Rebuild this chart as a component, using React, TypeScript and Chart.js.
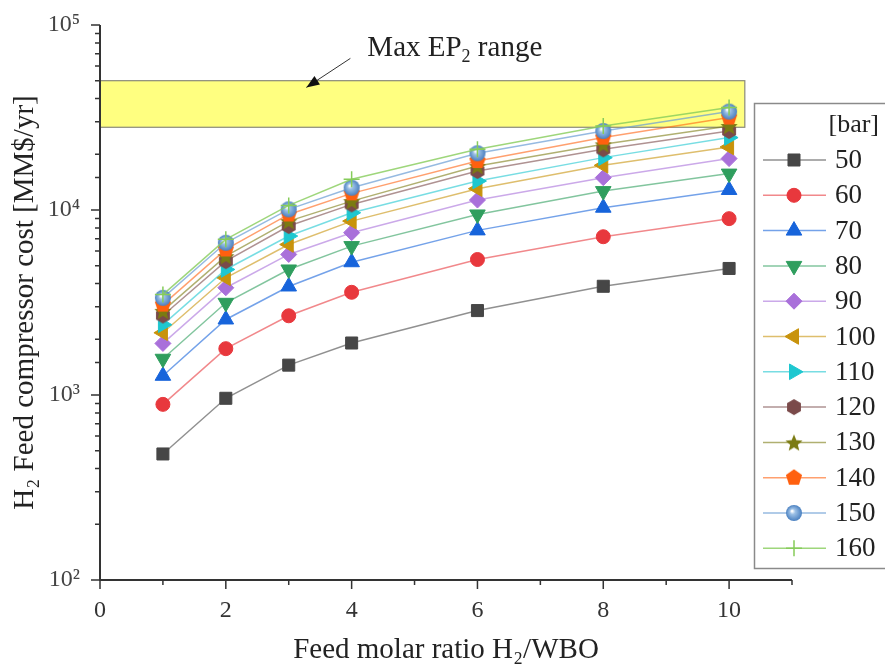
import React, { useEffect, useRef } from 'react';
import { Chart, registerables } from 'chart.js';
import { drawPoint } from 'chart.js/helpers';

Chart.register(...registerables);

// ---------------- data ----------------
const RATIOS = [1, 2, 3, 4, 6, 8, 10];
const PRESSURES = ['50', '60', '70', '80', '90', '100', '110', '120', '130', '140', '150', '160'];
const COST_50 = [480, 960, 1450, 1910, 2860, 3870, 4830];
const COST_60 = [890, 1780, 2680, 3590, 5400, 7170, 8980];
const COST_70 = [1270, 2560, 3860, 5220, 7760, 10290, 12830];
const COST_80 = [1570, 3150, 4770, 6380, 9460, 12650, 15730];
const COST_90 = [1900, 3800, 5750, 7540, 11320, 14960, 18960];
const COST_100 = [2170, 4300, 6510, 8710, 13040, 17440, 21910];
const COST_110 = [2400, 4770, 7230, 9660, 14340, 19190, 24620];
const COST_120 = [2690, 5290, 8190, 10720, 16240, 21280, 26720];
const COST_130 = [2850, 5630, 8710, 11170, 17290, 22640, 28470];
const COST_140 = [3080, 6120, 9460, 12300, 18400, 24620, 31600];
const COST_150 = [3350, 6650, 10080, 13200, 20250, 26720, 34040];
const COST_160 = [3490, 6940, 10590, 14650, 21280, 28470, 35800];
const SERIES = [COST_50, COST_60, COST_70, COST_80, COST_90, COST_100, COST_110, COST_120, COST_130, COST_140, COST_150, COST_160];

// Max EP2 range band (cost) and its x extent
const BAND_LOW = 28000;
const BAND_HIGH = 50000;
const BAND_X_MIN = 0;
const BAND_X_MAX = 10.25;

const X_TICK_LABELS = ['0', '2', '4', '6', '8', '10'];
const Y_TICK_LABELS = ['10²', '10³', '10⁴', '10⁵'];
const LEGEND_HEADER = '[bar]';
const ANNOT_TEXT = ['Max EP', '2', ' range'];
const X_TITLE = 'Feed molar ratio H₂/WBO';
const Y_TITLE = 'H₂ Feed compressor cost [MM$/yr]';

// ---------------- styles ----------------
const FONT = "'Liberation Serif', 'Times New Roman', serif";
const MARK_COLORS = ['#464646', '#E8383D', '#1764DB', '#2F9E5E', '#A970DA', '#C8930C', '#1EC7D0', '#7A4A4A', '#7B7B12', '#FF600F', '#6A9CD4', '#86CC5A'];
const LINE_COLORS = ['rgba(70,70,70,0.6)', 'rgba(232,56,61,0.6)', 'rgba(23,100,219,0.6)', 'rgba(47,158,94,0.6)', 'rgba(169,112,218,0.6)', 'rgba(200,147,12,0.6)', 'rgba(30,199,208,0.6)', 'rgba(122,74,74,0.6)', 'rgba(123,123,18,0.6)', 'rgba(255,96,15,0.6)', 'rgba(106,156,212,0.7)', 'rgba(134,204,90,0.8)'];

function mk(size: number, draw: (ctx: CanvasRenderingContext2D, c: number) => void) {
  const cv = document.createElement('canvas');
  cv.width = size;
  cv.height = size;
  const ctx = cv.getContext('2d')!;
  draw(ctx, size / 2);
  return cv;
}
function polygon(ctx: CanvasRenderingContext2D, c: number, n: number, r: number, start: number, color: string) {
  ctx.beginPath();
  for (let i = 0; i < n; i++) {
    const a = start + (i * 2 * Math.PI) / n;
    const px = c + r * Math.cos(a);
    const py = c + r * Math.sin(a);
    if (i === 0) ctx.moveTo(px, py);
    else ctx.lineTo(px, py);
  }
  ctx.closePath();
  ctx.fillStyle = color;
  ctx.fill();
}

function makeStyles() {
  const hex = mk(18, (ctx, c) => polygon(ctx, c, 6, 8, -Math.PI / 2, MARK_COLORS[7]));
  const star = mk(20, (ctx, c) => {
    ctx.beginPath();
    for (let i = 0; i < 10; i++) {
      const r = i % 2 === 0 ? 9 : 4;
      const a = -Math.PI / 2 + (i * Math.PI) / 5;
      const px = c + r * Math.cos(a);
      const py = c + 1 + r * Math.sin(a);
      if (i === 0) ctx.moveTo(px, py);
      else ctx.lineTo(px, py);
    }
    ctx.closePath();
    ctx.fillStyle = MARK_COLORS[8];
    ctx.fill();
  });
  const penta = mk(18, (ctx, c) => polygon(ctx, c, 5, 8.5, -Math.PI / 2, MARK_COLORS[9]));
  const sphere = mk(18, (ctx, c) => {
    const g = ctx.createRadialGradient(c - 2, c - 2, 0.5, c, c, 8);
    g.addColorStop(0, '#ffffff');
    g.addColorStop(0.3, '#9cc0e6');
    g.addColorStop(1, '#4a80c0');
    ctx.beginPath();
    ctx.arc(c, c, 8, 0, Math.PI * 2);
    ctx.fillStyle = g;
    ctx.fill();
  });
  return [
    { pointStyle: 'rect', radius: 8.5, rotation: 0 },
    { pointStyle: 'circle', radius: 7, rotation: 0 },
    { pointStyle: 'triangle', radius: 9, rotation: 0 },
    { pointStyle: 'triangle', radius: 9, rotation: 180 },
    { pointStyle: 'rectRot', radius: 8, rotation: 0 },
    { pointStyle: 'triangle', radius: 9, rotation: 270 },
    { pointStyle: 'triangle', radius: 9, rotation: 90 },
    { pointStyle: hex, radius: 8, rotation: 0 },
    { pointStyle: star, radius: 9, rotation: 0 },
    { pointStyle: penta, radius: 8, rotation: 0 },
    { pointStyle: sphere, radius: 8, rotation: 0 },
    { pointStyle: 'cross', radius: 8, rotation: 0 },
  ];
}

const bandPlugin = {
  id: 'band',
  beforeDatasetsDraw(chart: any) {
    const { ctx, scales } = chart;
    const x0 = scales.x.getPixelForValue(BAND_X_MIN);
    const x1 = scales.x.getPixelForValue(BAND_X_MAX);
    const y0 = scales.y.getPixelForValue(BAND_HIGH);
    const y1 = scales.y.getPixelForValue(BAND_LOW);
    ctx.save();
    ctx.fillStyle = '#FFFF80';
    ctx.fillRect(x0, y0, x1 - x0, y1 - y0);
    ctx.strokeStyle = '#8a8a7a';
    ctx.lineWidth = 1.2;
    ctx.strokeRect(x0, y0, x1 - x0, y1 - y0);
    ctx.restore();
  },
};

const axesPlugin = {
  id: 'axesDraw',
  afterDraw(chart: any) {
    const { ctx, scales, chartArea } = chart;
    const xs = scales.x;
    const ys = scales.y;
    ctx.save();
    ctx.strokeStyle = '#333';
    ctx.lineWidth = 2;
    ctx.beginPath();
    ctx.moveTo(chartArea.left, chartArea.top);
    ctx.lineTo(chartArea.left, chartArea.bottom);
    ctx.lineTo(chartArea.right, chartArea.bottom);
    ctx.stroke();
    ctx.lineWidth = 1.5;
    ctx.beginPath();
    ys.ticks.forEach((t: any) => {
      const y = ys.getPixelForValue(t.value);
      const lg = Math.log10(t.value);
      const major = Math.abs(lg - Math.round(lg)) < 1e-9;
      ctx.moveTo(chartArea.left, y);
      ctx.lineTo(chartArea.left - (major ? 9 : 5), y);
    });
    xs.ticks.forEach((t: any) => {
      const x = xs.getPixelForValue(t.value);
      const major = t.value % 2 === 0;
      ctx.moveTo(x, chartArea.bottom);
      ctx.lineTo(x, chartArea.bottom + (major ? 9 : 5));
    });
    ctx.stroke();
    ctx.restore();
  },
};

const annotPlugin = {
  id: 'annot',
  afterDraw(chart: any) {
    const { ctx, scales } = chart;
    const tipX = scales.x.getPixelForValue(3.28);
    const tipY = scales.y.getPixelForValue(46000);
    const sX = scales.x.getPixelForValue(3.98);
    const sY = scales.y.getPixelForValue(66000);
    ctx.save();
    ctx.strokeStyle = '#333';
    ctx.fillStyle = '#111';
    ctx.lineWidth = 1;
    ctx.beginPath();
    ctx.moveTo(sX, sY);
    ctx.lineTo(tipX, tipY);
    ctx.stroke();
    const ang = Math.atan2(tipY - sY, tipX - sX);
    const L = 13, W = 5;
    ctx.beginPath();
    ctx.moveTo(tipX, tipY);
    ctx.lineTo(tipX - L * Math.cos(ang) + W * Math.sin(ang), tipY - L * Math.sin(ang) - W * Math.cos(ang));
    ctx.lineTo(tipX - L * Math.cos(ang) - W * Math.sin(ang), tipY - L * Math.sin(ang) + W * Math.cos(ang));
    ctx.closePath();
    ctx.fill();
    // text
    let x = scales.x.getPixelForValue(4.25);
    const base = scales.y.getPixelForValue(68000);
    ctx.fillStyle = '#222';
    ctx.textBaseline = 'alphabetic';
    ctx.textAlign = 'left';
    ctx.font = `29px ${FONT}`;
    ctx.fillText(ANNOT_TEXT[0], x, base);
    x += ctx.measureText(ANNOT_TEXT[0]).width;
    ctx.font = `18px ${FONT}`;
    ctx.fillText(ANNOT_TEXT[1], x, base + 6);
    x += ctx.measureText(ANNOT_TEXT[1]).width;
    ctx.font = `29px ${FONT}`;
    ctx.fillText(ANNOT_TEXT[2], x, base);
    ctx.restore();
  },
};

const legendPlugin = {
  id: 'customLegend',
  afterDraw(chart: any) {
    const { ctx } = chart;
    ctx.save();
    ctx.fillStyle = '#fff';
    ctx.fillRect(755, 104, 140, 464);
    ctx.strokeStyle = '#8a8a8a';
    ctx.lineWidth = 1.5;
    ctx.strokeRect(754.5, 103.5, 160, 465);
    ctx.fillStyle = '#222';
    ctx.font = `26px ${FONT}`;
    ctx.textAlign = 'right';
    ctx.textBaseline = 'middle';
    ctx.fillText(LEGEND_HEADER, 879, 125);
    chart.data.datasets.forEach((ds: any, i: number) => {
      const y = 160 + i * 35.3;
      ctx.strokeStyle = ds.borderColor;
      ctx.lineWidth = 1.5;
      ctx.beginPath();
      ctx.moveTo(763, y);
      ctx.lineTo(826, y);
      ctx.stroke();
      ctx.fillStyle = ds.pointBackgroundColor;
      ctx.strokeStyle = ds.pointBorderColor;
      ctx.lineWidth = ds.pointBorderWidth;
      drawPoint(ctx, { pointStyle: ds.pointStyle, radius: ds.pointRadius, rotation: ds.pointRotation, borderWidth: ds.pointBorderWidth }, 794, y);
      ctx.fillStyle = '#222';
      ctx.font = `27px ${FONT}`;
      ctx.textAlign = 'left';
      ctx.textBaseline = 'middle';
      ctx.fillText(ds.label, 835, y + 1);
    });
    ctx.restore();
  },
};

export default function App() {
  const ref = useRef<HTMLCanvasElement>(null);
  useEffect(() => {
    if (!ref.current) return;
    const styles = makeStyles();
    const datasets = SERIES.map((vals, i) => ({
      label: PRESSURES[i],
      data: RATIOS.map((r, j) => ({ x: r, y: vals[j] })),
      borderColor: LINE_COLORS[i],
      backgroundColor: MARK_COLORS[i],
      borderWidth: 1.5,
      pointStyle: styles[i].pointStyle as any,
      pointRadius: styles[i].radius,
      pointRotation: styles[i].rotation,
      pointBackgroundColor: MARK_COLORS[i],
      pointBorderColor: MARK_COLORS[i],
      pointBorderWidth: i === 11 ? 1.5 : 1,
      tension: 0,
      order: 20 - i,
    }));
    const chart = new Chart(ref.current, {
      type: 'line',
      data: { datasets },
      plugins: [bandPlugin, axesPlugin, annotPlugin, legendPlugin],
      options: {
        responsive: false,
        animation: false,
        layout: { padding: { left: 0, top: 25, right: 93, bottom: 0 } },
        plugins: { legend: { display: false }, tooltip: { enabled: false } },
        scales: {
          x: {
            type: 'linear',
            min: 0,
            max: 11,
            afterFit: (s: any) => { s.height = 88; s.paddingLeft = 0; s.paddingRight = 0; },
            grid: { display: false, drawTicks: false },
            border: { display: false },
            ticks: {
              stepSize: 1,
              autoSkip: false,
              maxRotation: 0,
              padding: 16,
              color: '#333',
              font: { family: FONT, size: 24 },
              callback: (v: any) => (v % 2 === 0 ? X_TICK_LABELS[v / 2] ?? '' : ''),
            },
            title: { display: true, text: X_TITLE, color: '#222', font: { family: FONT, size: 29 }, padding: { top: 0, bottom: 0 } },
          },
          y: {
            type: 'logarithmic',
            min: 100,
            max: 100000,
            afterFit: (s: any) => { s.width = 100; s.paddingTop = 10; s.paddingBottom = 10; },
            grid: { display: false, drawTicks: false },
            border: { display: false },
            ticks: {
              autoSkip: false,
              padding: 20,
              color: '#444',
              font: { family: FONT, size: 24 },
              callback: (v: any) => {
                const lg = Math.log10(v);
                if (Math.abs(lg - Math.round(lg)) > 1e-9) return '';
                return Y_TICK_LABELS[Math.round(lg) - 2] ?? '';
              },
            },
            title: { display: true, text: Y_TITLE, color: '#222', font: { family: FONT, size: 29 }, padding: { top: 8, bottom: 0 } },
          },
        },
      },
    });
    return () => chart.destroy();
  }, []);
  return (
    <div style={{ position: 'absolute', left: 0, top: 0, width: 885, height: 668, background: '#fff' }}>
      <canvas ref={ref} width={885} height={668} />
    </div>
  );
}
